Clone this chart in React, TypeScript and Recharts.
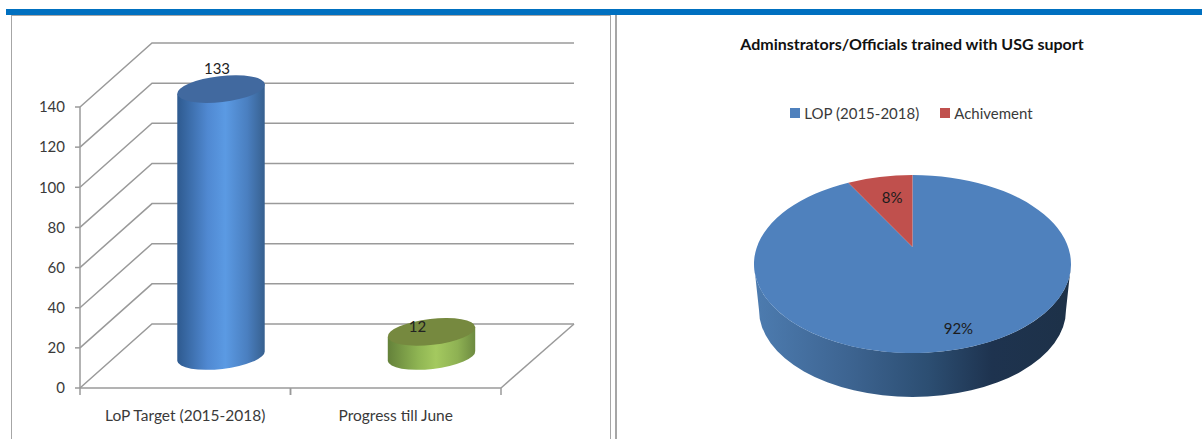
import React from "react";
import {
  Bar,
  BarChart,
  CartesianGrid,
  LabelList,
  Legend,
  Pie,
  PieChart,
  XAxis,
  YAxis,
} from "recharts";

const FONT = "Lato, 'Open Sans', sans-serif";
const INK = "#3a3a3a";
const RULE = "#9a9a9a";

// Left panel: training targets against progress
const barCategories = ["LoP Target (2015-2018)", "Progress till June"];
const barValues = [133, 12];
const valueTicks = [0, 20, 40, 60, 80, 100, 120, 140];
const bodyGradients = ["blueBody", "greenBody"];
const capColours = ["#41699f", "#76893f"];

// Right panel: share of officials trained
const pieTitle = "Adminstrators/Officials trained with USG suport";
const pieNames = ["LOP (2015-2018)", "Achivement"];
const pieValues = [92, 8];
const pieColours = ["#4f81bd", "#c0504d"];

const barRows = barCategories.map((name, i) => ({ name, value: barValues[i] }));
const pieRows = pieNames.map((name, i) => ({
  name,
  value: pieValues[i],
  fill: pieColours[i],
}));

// Oblique offset of the back wall relative to the front plane
const DEPTH_X = 72;
const DEPTH_Y = 64;
const CYL_DX = 36;
const CYL_DY = 32;
const CYL_RY = 13;
const CYL_TILT = 6.5;
const barLabelNudge = [
  { dx: -4, dy: -15 },
  { dx: -14, dy: 0 },
];

function WallLine(props: any) {
  const { x1, y1, x2, y, height } = props;
  const isFloor = Math.abs(y1 - (y + height)) < 1;
  const backY = y1 - DEPTH_Y;
  return (
    <g>
      <path
        d={`M${x1},${y1}L${x1 + DEPTH_X},${backY}L${x2 + DEPTH_X + 1},${backY}`}
        fill="none"
        stroke={RULE}
        strokeWidth={1.5}
      />
      {isFloor && (
        <path
          d={`M${x2 + DEPTH_X + 1},${backY}L${x2},${y1}`}
          fill="none"
          stroke={RULE}
          strokeWidth={1.5}
        />
      )}
    </g>
  );
}

function Cylinder(props: any) {
  const { x, y, width, height, index } = props;
  const rx = width / 2;
  const cx = x + rx + CYL_DX;
  const top = y - CYL_DY;
  const bottom = y + height - CYL_DY;
  const rad = (CYL_TILT * Math.PI) / 180;
  const ex = rx * Math.cos(rad);
  const ey = rx * Math.sin(rad);
  const arc = `A${rx},${CYL_RY} ${-CYL_TILT} 0 0 ${cx + ex},${bottom - ey}`;
  return (
    <g>
      <path
        d={`M${cx - ex},${top + ey}L${cx - ex},${bottom + ey}${arc}L${cx + ex},${top - ey}Z`}
        fill={`url(#${bodyGradients[index]})`}
      />
      <ellipse
        cx={cx}
        cy={top}
        rx={rx}
        ry={CYL_RY}
        transform={`rotate(${-CYL_TILT} ${cx} ${top})`}
        fill={capColours[index]}
      />
    </g>
  );
}

function CylinderValue(props: any) {
  const { x, y, width, value, index } = props;
  const nudge = barLabelNudge[index];
  return (
    <text
      x={x + width / 2 + CYL_DX + nudge.dx}
      y={y - CYL_DY + nudge.dy}
      textAnchor="middle"
      fontFamily={FONT}
      fontSize={15}
      fill="#222"
    >
      {value}
    </text>
  );
}

function CategoryTick(props: any) {
  const { x, y, payload } = props;
  const half = 105.25;
  const top = y - 8;
  return (
    <g>
      <path
        d={`M${x - half},${top}v7M${x + half},${top}v7`}
        stroke={RULE}
        strokeWidth={1.5}
        fill="none"
      />
      <text
        x={x}
        y={y + 25}
        textAnchor="middle"
        fontFamily={FONT}
        fontSize={15.5}
        fill={INK}
      >
        {payload.value}
      </text>
    </g>
  );
}

// The pie is tilted in perspective: its centre projects above the ellipse centre.
const PIE_RY = 89;
const PIE_KEY = 0.191;
const WALL_DROP = 46;
const WALL_RX = 153.5;
const WALL_RY = 87;
const pieLabelReach = [0.83, 0.68];
const pieLabelNudge = [8, 3];

function project(cx: number, cy: number, rx: number, angle: number, reach = 1) {
  const a = (angle * Math.PI) / 180;
  const u = Math.cos(a) * reach;
  const v = Math.sin(a) * reach;
  const w = 1 + PIE_KEY * v;
  return {
    x: cx + (rx * Math.sqrt(1 - PIE_KEY * PIE_KEY) * u) / w,
    y: cy - (PIE_RY * (v + PIE_KEY)) / w,
  };
}

function TiltedSlice(props: any) {
  const { cx, cy, outerRadius, startAngle, endAngle, fill, index } = props;
  const rx = outerRadius;
  const apex = project(cx, cy, rx, 0, 0);
  const from = project(cx, cy, rx, startAngle);
  const to = project(cx, cy, rx, endAngle);
  const large = Math.abs(startAngle - endAngle) > 180 ? 1 : 0;
  return (
    <g>
      {index === 0 && (
        <path
          d={`M${cx - rx},${cy}A${rx},${PIE_RY} 0 0 0 ${cx + rx},${cy}L${cx + WALL_RX},${cy + WALL_DROP}A${WALL_RX},${WALL_RY} 0 0 1 ${cx - WALL_RX},${cy + WALL_DROP}Z`}
          fill="url(#pieWall)"
        />
      )}
      <path
        d={`M${apex.x},${apex.y}L${from.x},${from.y}A${rx},${PIE_RY} 0 ${large} 1 ${to.x},${to.y}Z`}
        fill={fill}
      />
    </g>
  );
}

function SliceLabel(props: any) {
  const { cx, cy, outerRadius, midAngle, value, index } = props;
  const p = project(cx, cy, outerRadius, midAngle, pieLabelReach[index]);
  return (
    <text
      x={p.x + pieLabelNudge[index]}
      y={p.y}
      textAnchor="middle"
      dominantBaseline="central"
      fontFamily={FONT}
      fontSize={15}
      fill="#1c1c1c"
    >
      {`${value}%`}
    </text>
  );
}

function PieKey(props: any) {
  const { payload } = props;
  return (
    <div
      style={{
        display: "flex",
        justifyContent: "center",
        gap: 21,
        paddingLeft: 6,
        fontFamily: FONT,
        fontSize: 15,
        color: INK,
        lineHeight: "20px",
      }}
    >
      {(payload || []).map((entry: any) => (
        <span key={entry.value} style={{ display: "flex", alignItems: "center", gap: 4 }}>
          <span style={{ width: 10, height: 10, background: entry.color, display: "block" }} />
          {entry.value}
        </span>
      ))}
    </div>
  );
}

export default function App() {
  return (
    <div style={{ position: "fixed", left: 0, top: 0, width: 1202, height: 439, background: "#fff", overflow: "hidden" }}>
      <div style={{ position: "absolute", left: 6, top: 9, width: 1196, height: 6, background: "#0070c0" }} />
      <div
        style={{
          position: "absolute",
          left: 11,
          top: 15,
          width: 600,
          height: 430,
          boxSizing: "border-box",
          border: `1.5px solid #a6a6a6`,
        }}
      />
      <div style={{ position: "absolute", left: 615, top: 15, width: 1.5, height: 424, background: "#a6a6a6" }} />

      <div style={{ position: "absolute", left: 0, top: 0 }}>
        <BarChart
          width={612}
          height={439}
          data={barRows}
          barSize={88}
          margin={{ top: 107, right: 111, bottom: 0, left: 0 }}
        >
          <defs>
            <linearGradient id="blueBody" x1="0" y1="0" x2="1" y2="0">
              <stop offset="0" stopColor="#2e5a8f" />
              <stop offset="0.35" stopColor="#5089d2" />
              <stop offset="0.55" stopColor="#5b9ae3" />
              <stop offset="0.8" stopColor="#4a7fc0" />
              <stop offset="1" stopColor="#37608f" />
            </linearGradient>
            <linearGradient id="greenBody" x1="0" y1="0" x2="1" y2="0">
              <stop offset="0" stopColor="#64813a" />
              <stop offset="0.35" stopColor="#8fb553" />
              <stop offset="0.55" stopColor="#a4c95f" />
              <stop offset="0.8" stopColor="#8eb153" />
              <stop offset="1" stopColor="#6d8a40" />
            </linearGradient>
          </defs>
          <CartesianGrid vertical={false} horizontal={WallLine as any} />
          <XAxis
            dataKey="name"
            height={51}
            interval={0}
            tick={CategoryTick as any}
            tickLine={false}
            axisLine={{ stroke: RULE, strokeWidth: 1.5 }}
          />
          <YAxis
            width={80}
            domain={[0, 140]}
            ticks={valueTicks}
            interval={0}
            tickSize={5}
            tickMargin={10}
            axisLine={{ stroke: RULE, strokeWidth: 1.5 }}
            tickLine={{ stroke: RULE, strokeWidth: 1.5 }}
            tick={{ fontFamily: FONT, fontSize: 15, fill: INK }}
          />
          <Bar dataKey="value" isAnimationActive={false} shape={Cylinder as any}>
            <LabelList dataKey="value" content={CylinderValue as any} />
          </Bar>
        </BarChart>
      </div>

      <div style={{ position: "absolute", left: 615, top: 0 }}>
        <PieChart width={587} height={439} margin={{ top: 0, right: 0, bottom: 0, left: 0 }}>
          <defs>
            <linearGradient id="pieWall" x1="0" y1="0" x2="1" y2="0">
              <stop offset="0" stopColor="#4d7cb0" />
              <stop offset="0.3" stopColor="#3d6491" />
              <stop offset="0.55" stopColor="#2c4e72" />
              <stop offset="0.75" stopColor="#1e334f" />
              <stop offset="1" stopColor="#1d3148" />
            </linearGradient>
          </defs>
          <text
            x={297}
            y={50}
            textAnchor="middle"
            fontFamily={FONT}
            fontSize={16}
            fontWeight={700}
            fill="#111"
          >
            {pieTitle}
          </text>
          <Legend
            content={PieKey as any}
            verticalAlign="top"
            itemSorter={null as any}
            wrapperStyle={{ top: 103, left: 0, width: 587 }}
          />
          <Pie
            data={pieRows}
            dataKey="value"
            nameKey="name"
            cx={297.5}
            cy={244}
            outerRadius={158.5}
            startAngle={90}
            endAngle={-270}
            stroke="none"
            isAnimationActive={false}
            shape={TiltedSlice as any}
            labelLine={false}
            label={SliceLabel as any}
          />
        </PieChart>
      </div>
    </div>
  );
}
